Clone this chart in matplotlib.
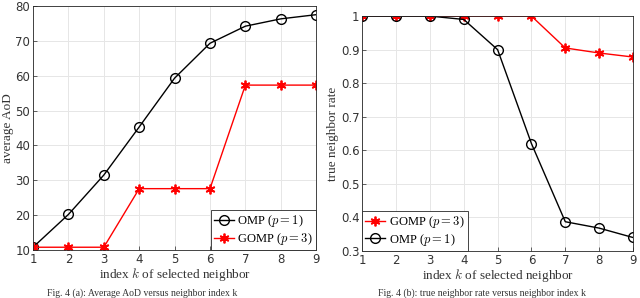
import numpy as np
import matplotlib.pyplot as plt

plt.rcParams['mathtext.fontset'] = 'cm'

k = [1, 2, 3, 4, 5, 6, 7, 8, 9]

# average AoD
aod_omp = [10.8, 20.2, 31.5, 45.3, 59.3, 69.3, 74.2, 76.3, 77.5]
aod_gomp = [10.8, 10.8, 10.8, 27.6, 27.6, 27.6, 57.3, 57.3, 57.3]

# true neighbor rate
rate_gomp = [1.0, 1.0, 1.0, 1.0, 1.0, 1.0, 0.905, 0.89, 0.878]
rate_omp = [1.0, 1.0, 1.0, 0.99, 0.90, 0.62, 0.387, 0.368, 0.34]

cap_a = "Fig. 4 (a): Average AoD versus neighbor index k"
cap_b = "Fig. 4 (b): true neighbor rate versus neighbor index k"

fig = plt.figure(figsize=(6.4, 2.98), dpi=100)
ax1 = fig.add_axes([0.0516, 0.161, 0.4424, 0.819])
ax2 = fig.add_axes([0.566, 0.158, 0.423, 0.788])

dark = '#262626'
serif = dict(family='Liberation Serif', fontsize=9.5, color='#333333')
star = (6, 2, 0)

def style(ax):
    ax.grid(True, color='#e6e6e6', linewidth=0.7)
    ax.set_axisbelow(True)
    for s in ax.spines.values():
        s.set_color(dark)
        s.set_linewidth(0.6)
    ax.tick_params(direction='in', length=3, width=0.5, colors=dark,
                   labelsize=8.5, pad=2)
    for t in ax.get_xticklabels() + ax.get_yticklabels():
        t.set_color('#333333')

def legend(ax, loc):
    leg = ax.legend(loc=loc, frameon=True, fancybox=False,
                    borderpad=0.25, handlelength=1.6, handletextpad=0.3,
                    labelspacing=0.15, borderaxespad=0.0,
                    prop=dict(family='Liberation Serif', size=9))
    leg.get_frame().set_edgecolor(dark)
    leg.get_frame().set_linewidth(0.6)
    leg.get_frame().set_alpha(1)

# ----- (a)
ax1.plot(k, aod_omp, '-o', color='black', lw=1, ms=7, mfc='none', mew=1,
         label='OMP ($p=1$)')
ax1.plot(k, aod_gomp, '-', marker=star, color='#ff0000', lw=1, ms=7, mew=1.3,
         label='GOMP ($p=3$)')
ax1.set_xlim(1, 9)
ax1.set_ylim(10, 80)
ax1.set_xticks(k)
ax1.set_yticks(np.arange(10, 81, 10))
ax1.set_xlabel('index $k$ of selected neighbor', labelpad=0, **serif)
ax1.set_ylabel('average AoD', labelpad=1, **serif)
style(ax1)
legend(ax1, 'lower right')

# ----- (b)
ax2.plot(k, rate_gomp, '-', marker=star, color='#ff0000', lw=1, ms=7, mew=1.3,
         label='GOMP ($p=3$)')
ax2.plot(k, rate_omp, '-o', color='black', lw=1, ms=7, mfc='none', mew=1,
         label='OMP ($p=1$)')
ax2.set_xlim(1, 9)
ax2.set_ylim(0.3, 1.0)
ax2.set_xticks(k)
ax2.set_yticks(np.arange(0.3, 1.01, 0.1))
ax2.set_yticklabels(['0.3', '0.4', '0.5', '0.6', '0.7', '0.8', '0.9', '1'])
ax2.set_xlabel('index $k$ of selected neighbor', labelpad=0, **serif)
ax2.set_ylabel('true neighbor rate', labelpad=1, **serif)
style(ax2)
legend(ax2, 'lower left')

# captions at the bottom edge
fig.text(0.073, 0.0, cap_a, ha='left', va='bottom',
         family='Liberation Serif', fontsize=7, color='#333333')
fig.text(0.59, 0.0, cap_b, ha='left', va='bottom',
         family='Liberation Serif', fontsize=7, color='#333333')

fig.savefig('out.png', dpi=100)
